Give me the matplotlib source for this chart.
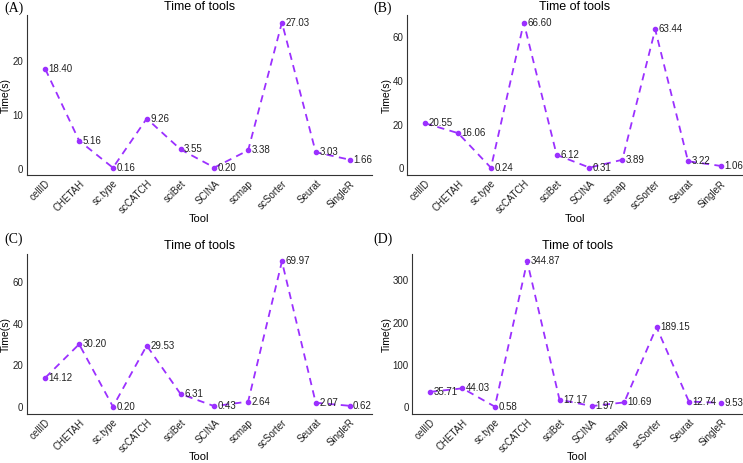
import matplotlib
matplotlib.use('Agg')
import matplotlib.pyplot as plt
from matplotlib.ticker import MultipleLocator

plt.rcParams['font.family'] = ['Liberation Sans', 'DejaVu Sans']

tools = ['cellID', 'CHETAH', 'sc.type', 'scCATCH', 'sciBet', 'SCINA',
         'scmap', 'scSorter', 'Seurat', 'SingleR']

time_a = [18.40, 5.16, 0.16, 9.26, 3.55, 0.20, 3.38, 27.03, 3.03, 1.66]
time_b = [20.55, 16.06, 0.24, 66.60, 6.12, 0.31, 3.89, 63.44, 3.22, 1.06]
time_c = [14.12, 30.20, 0.20, 29.53, 6.31, 0.43, 2.64, 69.97, 2.07, 0.62]
time_d = [35.71, 44.03, 0.58, 344.87, 17.17, 1.97, 10.69, 189.15, 12.74, 9.53]

panel_labels = ['(A)', '(B)', '(C)', '(D)']
tick_steps = [10, 20, 20, 100]

line_color = '#9B30FF'

fig = plt.figure(figsize=(7.43, 4.63), dpi=100)

# axes boxes in figure fractions (left, bottom, width, height)
boxes = [
    [0.036, 0.622, 0.464, 0.345],
    [0.548, 0.622, 0.451, 0.345],
    [0.036, 0.106, 0.464, 0.345],
    [0.555, 0.106, 0.444, 0.345],
]
# where the (A)..(D) labels go
label_pos = [(0.006, 0.982), (0.503, 0.982), (0.006, 0.483), (0.503, 0.483)]

all_times = [time_a, time_b, time_c, time_d]

for i, times in enumerate(all_times):
    ax = fig.add_axes(boxes[i])
    x = list(range(len(tools)))
    ax.plot(x, times, linestyle='--', color=line_color, linewidth=1.3,
            marker='o', markersize=3, dashes=(4, 3))
    for xi, v in zip(x, times):
        ax.annotate('%.2f' % v, (xi, v), xytext=(2.5, 0), textcoords='offset points',
                    ha='left', va='center', fontsize=7, color='#222222')

    ax.set_xlim(-0.55, 9.65)
    ax.yaxis.set_major_locator(MultipleLocator(tick_steps[i]))
    ax.set_xticks(x)
    ax.set_xticklabels(tools, rotation=45, ha='right', rotation_mode='anchor')
    ax.tick_params(axis='both', length=0, labelsize=7, pad=2.5, colors='#222222')

    ax.spines['top'].set_visible(False)
    ax.spines['right'].set_visible(False)
    ax.spines['left'].set_color('#333333')
    ax.spines['bottom'].set_color('#333333')

    ax.set_title('Time of tools', fontsize=9, pad=4)
    ax.set_xlabel('Tool', fontsize=8, labelpad=-1.5)
    ax.set_ylabel('Time(s)', fontsize=7.5, labelpad=1)

    fig.text(label_pos[i][0], label_pos[i][1], panel_labels[i],
             family='Liberation Serif', fontsize=10, va='center', ha='left')

fig.savefig('out.png', dpi=100)
